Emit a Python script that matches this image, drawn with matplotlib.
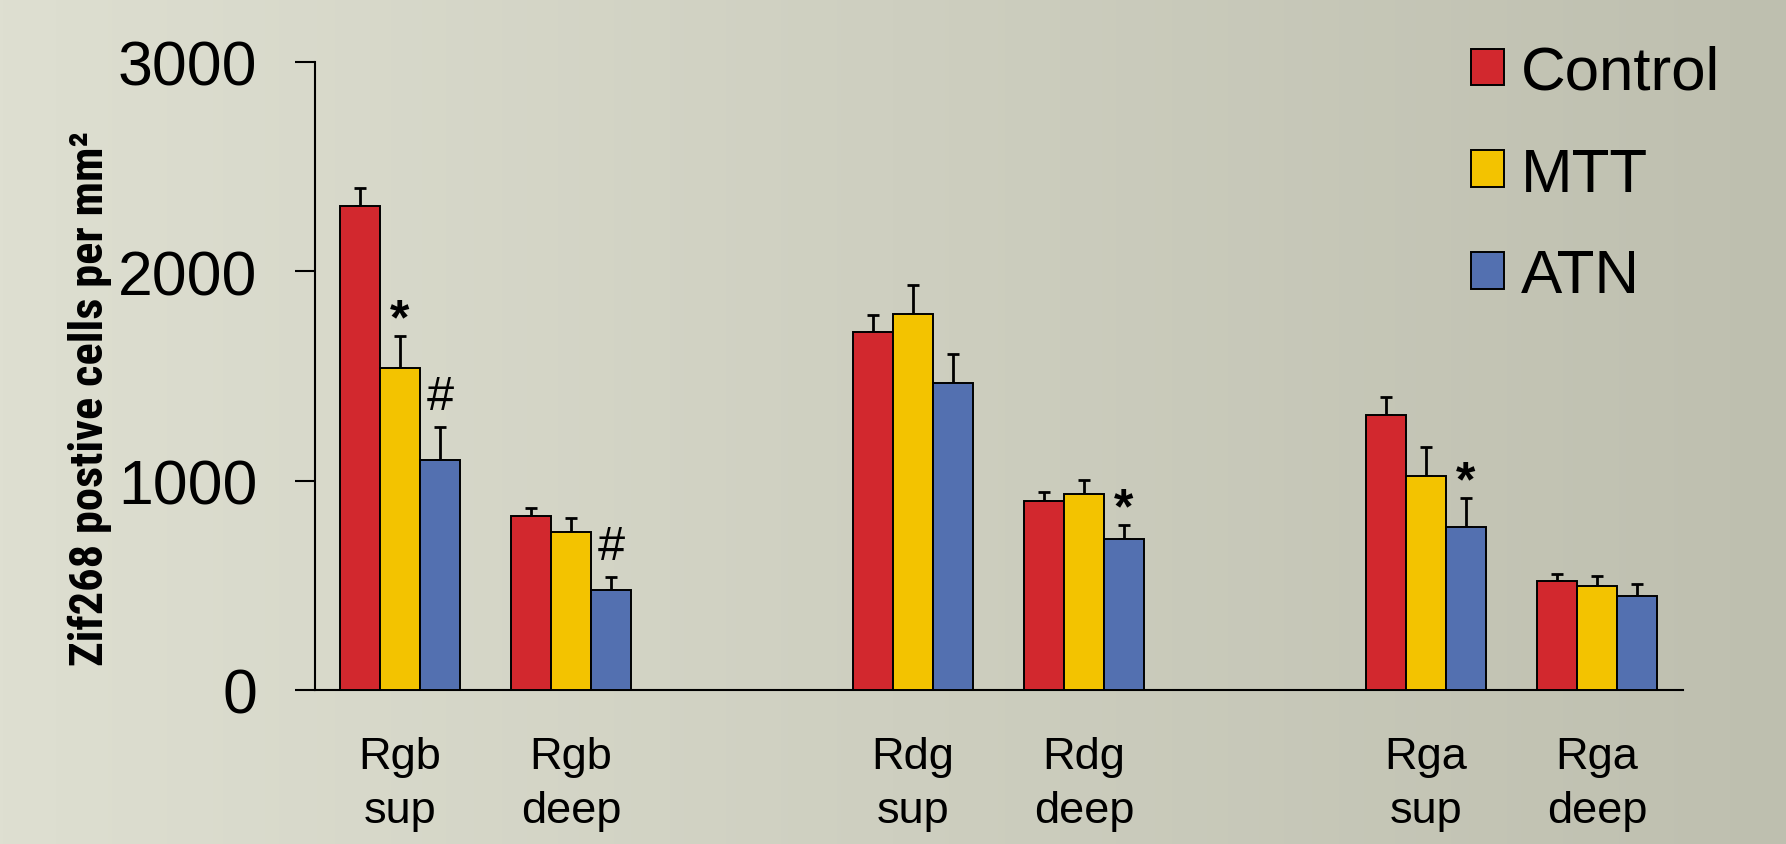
import numpy as np
import matplotlib
matplotlib.use('Agg')
import matplotlib.pyplot as plt
from matplotlib import font_manager
from matplotlib.font_manager import FontProperties
from matplotlib.patches import Patch

# ---------------- data ----------------
categories = ['Rgb\nsup', 'Rgb\ndeep', 'Rdg\nsup', 'Rdg\ndeep', 'Rga\nsup', 'Rga\ndeep']
series_names = ['Control', 'MTT', 'ATN']
control = [2310, 830, 1710, 905, 1315, 520]
control_err = [90, 38, 83, 43, 84, 32]
mtt = [1540, 756, 1796, 936, 1024, 495]
mtt_err = [149, 64, 140, 69, 139, 51]
atn = [1101, 479, 1465, 721, 780, 451]
atn_err = [153, 62, 140, 67, 137, 54]
y_ticks = [0, 1000, 2000, 3000]
y_label = 'Zif268 postive cells per mm\u00b2'
# (category index, series index, symbol)
annotations = [(0, 1, '*'), (0, 2, '#'), (1, 2, '#'), (3, 2, '*'), (4, 2, '*')]

colors = ['#D2282E', '#F3C300', '#5370B0']

plt.rcParams['font.family'] = ['Liberation Sans', 'DejaVu Sans']

W, H = 1786, 845
fig = plt.figure(figsize=(W / 100, H / 100), dpi=100)

# background gradient
bg = fig.add_axes([0, 0, 1, 1], zorder=-10)
left_c = np.array([222, 223, 209]) / 255.0
right_c = np.array([190, 191, 175]) / 255.0
t = np.linspace(0, 1, 512)
grad = left_c[None, :] * (1 - t[:, None]) + right_c[None, :] * t[:, None]
bg.imshow(grad[None, :, :], extent=[0, 1, 0, 1], aspect='auto')
bg.set_axis_off()

ax = fig.add_axes([315 / W, 154 / H, (1683 - 315) / W, (691 - 63) / H])
ax.set_facecolor('none')

# x layout: pairs of layers per region with a gap between regions
x = np.array([(i // 2) * 3 + (i % 2) for i in range(len(categories))], dtype=float)
bw = 0.234
series = [control, mtt, atn]
errs = [control_err, mtt_err, atn_err]
for k, (vals, er, col) in enumerate(zip(series, errs, colors)):
    xs = x + (k - 1) * bw
    ax.bar(xs, vals, width=bw, color=col, edgecolor='black', linewidth=1.4, zorder=3)
    ax.errorbar(xs, vals, yerr=[np.zeros(len(vals)), er], fmt='none', ecolor='black',
                elinewidth=2.0, capsize=4.5, capthick=2.0, zorder=2)

for ci, si, sym in annotations:
    xs = x[ci] + (si - 1) * bw
    top = series[si][ci] + errs[si][ci]
    if sym == '*':
        ax.annotate(sym, xy=(xs, top), xytext=(0, 2), textcoords='offset points',
                    ha='center', va='baseline', fontsize=36, fontweight='bold')
    else:
        ax.annotate(sym, xy=(xs, top), xytext=(0, 13), textcoords='offset points',
                    ha='center', va='baseline', fontsize=35)

ax.set_xlim(-0.497, 7.503)
ax.set_ylim(0, 3000)
ax.set_yticks(y_ticks)
ax.set_yticklabels([str(v) for v in y_ticks])
ax.set_xticks(x)
ax.set_xticklabels(categories)
for lbl in ax.get_xticklabels():
    lbl.set_linespacing(1.42)

for s in ['top', 'right']:
    ax.spines[s].set_visible(False)
for s in ['left', 'bottom']:
    ax.spines[s].set_linewidth(1.5)
    ax.spines[s].set_color('black')

ax.tick_params(axis='y', length=14.4, width=1.5, pad=27, labelsize=45, direction='out')
ax.tick_params(axis='x', length=0, pad=33, labelsize=32.5)

# y label: pick a condensed bold face if one is installed
def pick_condensed_bold():
    prefs = ['Liberation Sans Narrow', 'Arial Narrow', 'Roboto Condensed',
             'Noto Sans', 'Open Sans', 'DejaVu Sans']
    best = None
    for pref in prefs:
        for f in font_manager.fontManager.ttflist:
            nm = f.name
            fn = f.fname.lower()
            if not nm.startswith(pref.split(' Condensed')[0].split(' Narrow')[0]):
                continue
            cond = ('narrow' in fn or 'condensed' in fn or 'narrow' in nm.lower()
                    or 'condensed' in nm.lower())
            if not cond or 'semicondensed' in fn or 'semi' in nm.lower():
                continue
            if 'extra' in fn or 'ultra' in fn:
                continue
            if 'italic' in fn or 'oblique' in fn:
                continue
            w = f.weight if isinstance(f.weight, int) else 700 if 'bold' in str(f.weight) else 400
            if 'bold' in fn and 'semibold' not in fn and 'extrabold' not in fn:
                return FontProperties(fname=f.fname)
            if best is None and w >= 600:
                best = FontProperties(fname=f.fname)
        if best is not None:
            return best
    return FontProperties(family=['Liberation Sans', 'DejaVu Sans'], weight='bold')

fp = pick_condensed_bold()
target_len = 535.0
ylab = fig.text(103 / W, 1 - 398 / H, y_label, rotation=90, rotation_mode='anchor',
                ha='center', va='baseline', fontproperties=fp)
fp.set_size(30)
ylab.set_fontproperties(fp)
renderer = fig.canvas.get_renderer()
ext = ylab.get_window_extent(renderer)
cur_len = ext.height
new_size = min(30 * target_len / cur_len, 40)
fp2 = fp.copy()
fp2.set_size(new_size)
ylab.set_fontproperties(fp2)

handles = [Patch(facecolor=c, edgecolor='black', linewidth=1.4) for c in colors]
fig.legend(handles, series_names, loc='upper left', bbox_to_anchor=(1471 / W, 1 - 46 / H),
           frameon=False, fontsize=44.6, handlelength=0.53, handleheight=0.53,
           handletextpad=0.27, labelspacing=0.72, borderpad=0, borderaxespad=0)

fig.savefig('out.png', dpi=100)
